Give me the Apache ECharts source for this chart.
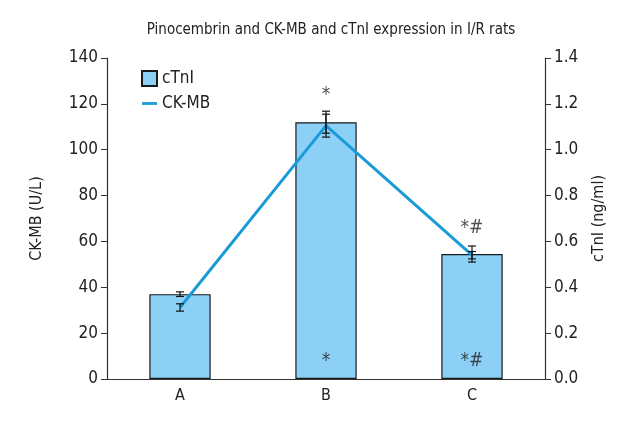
<!DOCTYPE html>
<html>
<head>
<meta charset="utf-8">
<script src="https://cdn.jsdelivr.net/npm/echarts@6/dist/echarts.min.js"></script>
<style>html,body{margin:0;padding:0;background:#fff}#c{width:640px;height:440px}</style>
</head>
<body>
<div id="c"></div>
<script>
const categories = ['A', 'B', 'C'];
const cTnI = [0.37, 1.12, 0.545];
const cTnIErr = [0.01, 0.048, 0.035];
const ckmb = [31.2, 110.5, 54];
const ckmbErr = [1.6, 5, 1.6];
const topMarks = ['', '*', '*#'];
const topMarkY = [null, 124, 66];
const bottomMarks = ['', '*', '*#'];
const bottomMarkY = [null, 8, 8];
const leftTicks = [0, 140, 20];
const rightTicks = [0, 1.4, 0.2];

const FONT = '"Liberation Sans Narrow", "DejaVu Sans Condensed", sans-serif';
const chart = echarts.init(document.getElementById('c'));

function errRender(params, api) {
  const x = api.value(0), v = api.value(1), e = api.value(2);
  const t = api.coord([x, v + e]);
  const b = api.coord([x, v - e]);
  const hw = 4;
  const st = { stroke: '#111', lineWidth: 1.2 };
  return {
    type: 'group',
    children: [
      { type: 'line', shape: { x1: t[0], y1: t[1], x2: b[0], y2: b[1] }, style: st },
      { type: 'line', shape: { x1: t[0] - hw, y1: t[1], x2: t[0] + hw, y2: t[1] }, style: st },
      { type: 'line', shape: { x1: b[0] - hw, y1: b[1], x2: b[0] + hw, y2: b[1] }, style: st }
    ]
  };
}

const markData = (marks, ys) => marks.map((m, i) => m ? { value: [i, ys[i]], name: m } : null).filter(Boolean);

chart.setOption({
  animation: false,
  textStyle: { fontFamily: FONT },
  title: {
    text: 'Pinocembrin and CK-MB and cTnI expression in I/R rats',
    left: 326, top: 18, textAlign: 'center',
    textStyle: { fontFamily: FONT, fontSize: 15, fontWeight: 'normal', color: '#222' }
  },
  legend: {
    orient: 'vertical', left: 136, top: 65, itemGap: 8,
    itemWidth: 15, itemHeight: 15, symbolKeepAspect: true,
    textStyle: { fontFamily: FONT, fontSize: 17, color: '#222' },
    data: [
      { name: 'cTnI', icon: 'rect' },
      { name: 'CK-MB', icon: 'path://M0,0H16V3H0Z', itemStyle: { color: '#1a9bd8', borderWidth: 0 } }
    ]
  },
  grid: { left: 107, right: 95, top: 58, bottom: 61, containLabel: false },
  xAxis: {
    type: 'category', data: categories,
    axisLine: { lineStyle: { color: '#333', width: 1.2 } },
    axisTick: { alignWithLabel: true, length: 6, lineStyle: { color: '#333' } },
    axisLabel: { fontFamily: FONT, fontSize: 16, color: '#222', margin: 9 }
  },
  yAxis: [
    {
      type: 'value', min: leftTicks[0], max: leftTicks[1], interval: leftTicks[2],
      name: 'CK-MB (U/L)', nameLocation: 'middle', nameGap: 62, nameRotate: 90,
      nameTextStyle: { fontFamily: FONT, fontSize: 16, color: '#222' },
      axisLine: { show: true, lineStyle: { color: '#333', width: 1.2 } },
      axisTick: { show: true, length: 6, lineStyle: { color: '#333' } },
      axisLabel: { fontFamily: FONT, fontSize: 17, color: '#222', margin: 9 },
      splitLine: { show: false }
    },
    {
      type: 'value', min: rightTicks[0], max: rightTicks[1], interval: rightTicks[2],
      name: 'cTnI (ng/ml)', nameLocation: 'middle', nameGap: 46, nameRotate: 90,
      nameTextStyle: { fontFamily: FONT, fontSize: 16, color: '#222' },
      axisLine: { show: true, lineStyle: { color: '#333', width: 1.2 } },
      axisTick: { show: true, length: 6, lineStyle: { color: '#333' } },
      axisLabel: { fontFamily: FONT, fontSize: 17, color: '#222', margin: 9, formatter: v => v.toFixed(1) },
      splitLine: { show: false }
    }
  ],
  series: [
    {
      name: 'cTnI', type: 'bar', yAxisIndex: 1, data: cTnI, barWidth: '42%',
      itemStyle: { color: '#8dd0f6', borderColor: '#1a1a1a', borderWidth: 1.2 }, z: 2
    },
    {
      name: 'CK-MB', type: 'line', yAxisIndex: 0, data: ckmb, symbol: 'none',
      lineStyle: { color: '#1a9bd8', width: 3 }, itemStyle: { color: '#1a9bd8' }, z: 3
    },
    {
      type: 'custom', yAxisIndex: 1, renderItem: errRender, z: 4,
      data: cTnI.map((v, i) => [i, v, cTnIErr[i]])
    },
    {
      type: 'custom', yAxisIndex: 0, renderItem: errRender, z: 4,
      data: ckmb.map((v, i) => [i, v, ckmbErr[i]])
    },
    {
      type: 'scatter', yAxisIndex: 0, symbolSize: 0, z: 5,
      data: markData(topMarks, topMarkY).concat(markData(bottomMarks, bottomMarkY)),
      label: { show: true, position: 'inside', formatter: p => p.name, fontFamily: FONT, fontSize: 19, color: '#222' }
    }
  ]
});
</script>
</body>
</html>
